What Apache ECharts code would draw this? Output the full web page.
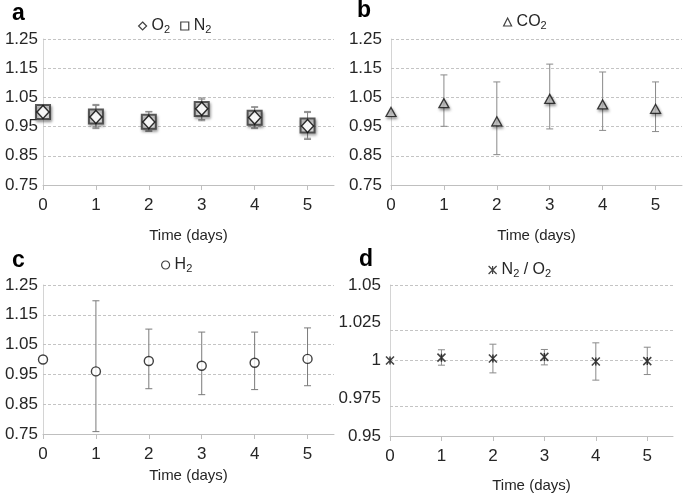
<!DOCTYPE html>
<html>
<head>
<meta charset="utf-8">
<script src="https://cdn.jsdelivr.net/npm/echarts@6/dist/echarts.min.js"></script>
<style>html,body{margin:0;padding:0;background:#fff}#c{width:685px;height:496px}</style>
</head>
<body>
<div id="c"></div>
<script>
const days = [0, 1, 2, 3, 4, 5];
const xTicks = [0, 1, 2, 3, 4, 5];
const ticksABC = [0.75, 0.85, 0.95, 1.05, 1.15, 1.25];
const ticksD = [0.95, 0.975, 1, 1.025, 1.05];

const o2Mean = [1.000, 0.983, 0.966, 1.011, 0.981, 0.952];
const o2Low  = [null, 0.948, 0.936, 0.974, 0.946, 0.910];
const o2High = [null, 1.022, 1.000, 1.048, 1.018, 1.002];
const n2Mean = [1.000, 0.985, 0.967, 1.010, 0.980, 0.954];
const n2Low  = [null, 0.943, 0.933, 0.970, 0.943, 0.906];
const n2High = [null, 1.026, 1.002, 1.044, 1.016, 0.998];

const co2Mean = [1.000, 1.030, 0.968, 1.045, 1.026, 1.011];
const co2Low  = [null, 0.951, 0.854, 0.942, 0.937, 0.933];
const co2High = [null, 1.127, 1.103, 1.164, 1.137, 1.103];

const h2Mean = [1.000, 0.960, 0.995, 0.979, 0.989, 1.002];
const h2Low  = [null, 0.758, 0.902, 0.882, 0.899, 0.912];
const h2High = [null, 1.197, 1.102, 1.092, 1.092, 1.106];

const ratioMean = [1.0000, 1.0019, 1.0013, 1.0024, 0.9993, 0.9996];
const ratioLow  = [null, 0.9969, 0.9918, 0.9971, 0.9870, 0.9907];
const ratioHigh = [null, 1.0071, 1.0108, 1.0073, 1.0117, 1.0088];

const FONT = 'Liberation Sans, Arial, sans-serif';
const TXT = '#262626';
const STAR = 'path://M0 0L10 10M10 0L0 10M5 0L5 10';

function pts(mean) { return days.map((d, i) => [d, mean[i]]); }
function bars(lo, hi) {
  const out = [];
  days.forEach((d, i) => { if (lo[i] != null) out.push([d, lo[i], hi[i]]); });
  return out;
}
function errSeries(idx, lo, hi, color) {
  return {
    type: 'custom', xAxisIndex: idx, yAxisIndex: idx, z: 2, silent: true,
    encode: { x: 0, y: [1, 2] },
    data: bars(lo, hi),
    renderItem: function (params, api) {
      const x = api.value(0);
      const a = api.coord([x, api.value(1)]);
      const b = api.coord([x, api.value(2)]);
      const hw = 3.5;
      const st = { stroke: color, lineWidth: 1 };
      return { type: 'group', children: [
        { type: 'line', shape: { x1: a[0], y1: a[1], x2: b[0], y2: b[1] }, style: st },
        { type: 'line', shape: { x1: a[0] - hw, y1: a[1], x2: a[0] + hw, y2: a[1] }, style: st },
        { type: 'line', shape: { x1: b[0] - hw, y1: b[1], x2: b[0] + hw, y2: b[1] }, style: st }
      ] };
    }
  };
}
function gridLines(idx, ticks) {
  return {
    type: 'line', xAxisIndex: idx, yAxisIndex: idx, data: [], silent: true,
    markLine: {
      z: 1, silent: true, symbol: ['none', 'none'], label: { show: false },
      lineStyle: { color: '#c4c4c4', type: [3, 2], width: 1 },
      emphasis: { disabled: true },
      data: ticks.slice(1).map(v => ({ yAxis: v }))
    }
  };
}
function xAxis(idx, gap) {
  return {
    type: 'value', gridIndex: idx, min: 0, max: 5.5,
    name: 'Time (days)', nameLocation: 'middle', nameGap: gap,
    nameTextStyle: { fontFamily: FONT, fontSize: 15, color: TXT },
    axisLine: { lineStyle: { color: '#bfbfbf', width: 1 } },
    axisTick: { show: true, customValues: xTicks, length: 5, lineStyle: { color: '#bfbfbf' } },
    axisLabel: { customValues: xTicks, margin: 12, fontFamily: FONT, fontSize: 17, color: TXT },
    splitLine: { show: false }
  };
}
function yAxis(idx, ticks, min, max, margin, fmt) {
  return {
    type: 'value', gridIndex: idx, min: min, max: max,
    axisLine: { show: true, lineStyle: { color: '#d4d4d4', width: 1 } },
    axisTick: { show: false },
    axisLabel: { customValues: ticks, margin: margin, fontFamily: FONT, fontSize: 17, color: TXT, formatter: fmt },
    splitLine: { show: false }
  };
}
const rich = {
  t: { fontFamily: FONT, fontSize: 16, color: TXT },
  s: { fontFamily: FONT, fontSize: 11, color: TXT, padding: [8, 0, 0, 0] }
};
const legendNames = { 'O2': '{t|O}{s|2}', 'N2': '{t|N}{s|2}', 'CO2': '{t|CO}{s|2}', 'H2': '{t|H}{s|2}', 'N2/O2': '{t|N}{s|2}{t| / O}{s|2}' };
function legend(left, top, items, gap) {
  return {
    left: left, top: top, itemGap: gap, itemWidth: 8, itemHeight: 8, padding: 0,
    selectedMode: false,
    data: items,
    formatter: n => legendNames[n],
    itemStyle: { color: '#fff', borderColor: '#111', borderWidth: 1.2, shadowBlur: 0, shadowOffsetX: 0, shadowOffsetY: 0 },
    textStyle: { fontFamily: FONT, fontSize: 16, color: TXT, rich: rich }
  };
}
const shadow = { shadowBlur: 3, shadowColor: 'rgba(0,0,0,0.45)', shadowOffsetX: 1, shadowOffsetY: 2 };

const option = {
  animation: false,
  backgroundColor: '#fff',
  grid: [
    { left: 43, top: 39, width: 291, height: 146 },
    { left: 391, top: 39, width: 291, height: 146 },
    { left: 43, top: 285, width: 291, height: 149 },
    { left: 390, top: 285, width: 283, height: 151 }
  ],
  xAxis: [xAxis(0, 43), xAxis(1, 43), xAxis(2, 34), xAxis(3, 42)],
  yAxis: [
    yAxis(0, ticksABC, 0.75, 1.25, 5, v => v.toFixed(2)),
    yAxis(1, ticksABC, 0.75, 1.25, 9, v => v.toFixed(2)),
    yAxis(2, ticksABC, 0.75, 1.25, 5, v => v.toFixed(2)),
    yAxis(3, ticksD, 0.95, 1.05, 9, v => String(+v.toFixed(3)))
  ],
  legend: [
    legend(138, 18, [{ name: 'O2', icon: 'diamond' }, { name: 'N2', icon: 'rect' }], 10),
    legend(503, 14, [{ name: 'CO2', icon: 'triangle' }], 10),
    legend(161, 257, [{ name: 'H2', icon: 'circle' }], 10),
    legend(488, 262, [{ name: 'N2/O2', icon: STAR }], 10)
  ],
  graphic: [
    { type: 'text', style: { text: 'a', x: 12, y: 14, font: 'bold 23px ' + FONT, fill: '#000', verticalAlign: 'middle' } },
    { type: 'text', style: { text: 'b', x: 357, y: 11, font: 'bold 23px ' + FONT, fill: '#000', verticalAlign: 'middle' } },
    { type: 'text', style: { text: 'c', x: 12, y: 261, font: 'bold 23px ' + FONT, fill: '#000', verticalAlign: 'middle' } },
    { type: 'text', style: { text: 'd', x: 359, y: 260, font: 'bold 23px ' + FONT, fill: '#000', verticalAlign: 'middle' } }
  ],
  series: [
    gridLines(0, ticksABC), gridLines(1, ticksABC), gridLines(2, ticksABC), gridLines(3, ticksD),
    errSeries(0, n2Low, n2High, '#8a8a8a'),
    errSeries(0, o2Low, o2High, '#8a8a8a'),
    { name: 'N2', type: 'scatter', xAxisIndex: 0, yAxisIndex: 0, z: 3, symbol: 'rect', symbolSize: 14,
      itemStyle: Object.assign({ color: '#e6e6e6', borderColor: '#333', borderWidth: 2 }, shadow), data: pts(n2Mean) },
    { name: 'O2', type: 'scatter', xAxisIndex: 0, yAxisIndex: 0, z: 4, symbol: 'diamond', symbolSize: [12, 13],
      itemStyle: { color: '#fff', borderColor: '#000', borderWidth: 1.5 }, data: pts(o2Mean) },
    errSeries(1, co2Low, co2High, '#8a8a8a'),
    { name: 'CO2', type: 'scatter', xAxisIndex: 1, yAxisIndex: 1, z: 3, symbol: 'triangle', symbolSize: [10, 9],
      itemStyle: Object.assign({ color: '#d6d6d6', borderColor: '#111', borderWidth: 1.3 }, shadow), data: pts(co2Mean) },
    errSeries(2, h2Low, h2High, '#7a7a7a'),
    { name: 'H2', type: 'scatter', xAxisIndex: 2, yAxisIndex: 2, z: 3, symbol: 'circle', symbolSize: 9,
      itemStyle: { color: '#fff', borderColor: '#111', borderWidth: 1.4 }, data: pts(h2Mean) },
    errSeries(3, ratioLow, ratioHigh, '#8a8a8a'),
    { name: 'N2/O2', type: 'scatter', xAxisIndex: 3, yAxisIndex: 3, z: 3, symbol: STAR, symbolSize: 8,
      itemStyle: { color: 'none', borderColor: '#111', borderWidth: 1.5 }, data: pts(ratioMean) }
  ]
};
const chart = echarts.init(document.getElementById('c'), null, { renderer: 'canvas' });
chart.setOption(option);
</script>
</body>
</html>
